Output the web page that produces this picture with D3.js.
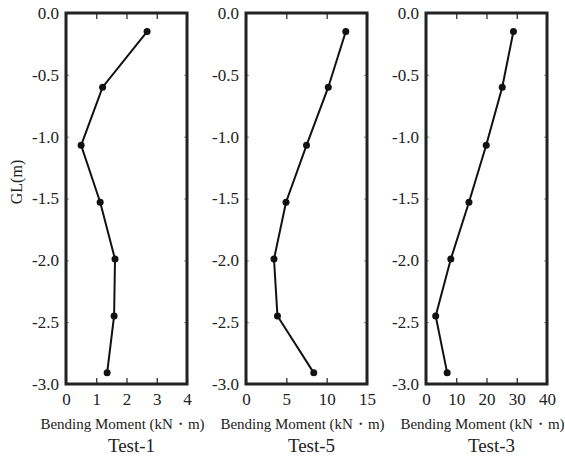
<!DOCTYPE html>
<html>
<head>
<meta charset="utf-8">
<script src="https://cdn.jsdelivr.net/npm/d3@7"></script>
<style>
  body { margin: 0; background: #fff; }
  text { font-family: "Liberation Serif", "DejaVu Serif", serif; fill: #222; }
</style>
</head>
<body>
<div class="chart"></div>
<script>
// depth below ground level (m)
const depths = [-0.15, -0.6, -1.07, -1.53, -1.99, -2.45, -2.91];

// bending moment (kN・m) per test
const test1 = [2.68, 1.21, 0.5, 1.13, 1.62, 1.59, 1.36];
const test5 = [12.37, 10.2, 7.5, 4.96, 3.47, 3.9, 8.4];
const test3 = [28.9, 25.2, 19.9, 14.2, 8.2, 3.2, 7.0];

const panelNames = ["Test-1", "Test-5", "Test-3"];
const xMax = [4, 15, 40];
const xTicks = [[0, 1, 2, 3, 4], [0, 5, 10, 15], [0, 10, 20, 30, 40]];
const yTicks = [0, -0.5, -1, -1.5, -2, -2.5, -3];

const panels = [test1, test5, test3].map((vals, i) => ({
    name: panelNames[i],
    max: xMax[i],
    ticks: xTicks[i],
    points: vals.map((v, j) => ({ m: v, gl: depths[j] }))
}));

const width = 565, height = 459;
const plotTop = 13, plotBottom = 384, panelW = 121;
const lefts = [66, 246, 426];

const svg = d3.select(".chart").append("svg")
    .attr("width", width)
    .attr("height", height);

const y = d3.scaleLinear().domain([-3, 0]).range([plotBottom, plotTop]);

panels.forEach((p, i) => {
    const left = lefts[i];
    const x = d3.scaleLinear().domain([0, p.max]).range([left, left + panelW]);
    const g = svg.append("g");

    // left axis with labels, ticks pointing inside
    g.append("g")
        .attr("transform", `translate(${left},0)`)
        .call(d3.axisLeft(y).tickValues(yTicks).tickSize(-3).tickSizeOuter(0)
            .tickPadding(7).tickFormat(d => d.toFixed(1)))
        .call(a => a.select(".domain").remove())
        .call(a => a.selectAll("line").attr("stroke", "#888"))
        .call(a => a.selectAll("text").attr("font-size", 17).attr("font-family", "Liberation Serif"));

    // right ticks
    g.append("g")
        .attr("transform", `translate(${left + panelW},0)`)
        .call(d3.axisRight(y).tickValues(yTicks).tickSize(-3).tickSizeOuter(0).tickFormat(""))
        .call(a => a.select(".domain").remove())
        .call(a => a.selectAll("line").attr("stroke", "#888"));

    // bottom axis
    g.append("g")
        .attr("transform", `translate(0,${plotBottom})`)
        .call(d3.axisBottom(x).tickValues(p.ticks).tickSize(-6).tickSizeOuter(0)
            .tickPadding(9).tickFormat(d3.format("d")))
        .call(a => a.select(".domain").remove())
        .call(a => a.selectAll("line").attr("stroke", "#222").attr("stroke-width", 1.2))
        .call(a => a.selectAll("text").attr("font-size", 17).attr("font-family", "Liberation Serif"));

    // top ticks
    g.append("g")
        .attr("transform", `translate(0,${plotTop})`)
        .call(d3.axisTop(x).tickValues(p.ticks).tickSize(-6).tickSizeOuter(0).tickFormat(""))
        .call(a => a.select(".domain").remove())
        .call(a => a.selectAll("line").attr("stroke", "#222").attr("stroke-width", 1.2));

    // frame
    g.append("rect")
        .attr("x", left)
        .attr("y", plotTop)
        .attr("width", panelW)
        .attr("height", plotBottom - plotTop)
        .attr("fill", "none")
        .attr("stroke", "#222")
        .attr("stroke-width", 3);

    // data line
    g.append("path")
        .datum(p.points)
        .attr("fill", "none")
        .attr("stroke", "#111")
        .attr("stroke-width", 2)
        .attr("d", d3.line().x(d => x(d.m)).y(d => y(d.gl)));

    g.selectAll("circle")
        .data(p.points)
        .join("circle")
        .attr("cx", d => x(d.m))
        .attr("cy", d => y(d.gl))
        .attr("r", 3.5)
        .attr("fill", "#111");

    g.append("text")
        .attr("x", left + panelW / 2 - 4)
        .attr("y", 429)
        .attr("text-anchor", "middle")
        .attr("font-size", 15)
        .text("Bending Moment (kN・m)");

    g.append("text")
        .attr("x", left + panelW / 2 + 5)
        .attr("y", 452)
        .attr("text-anchor", "middle")
        .attr("font-size", 19)
        .text(p.name);
});

svg.append("text")
    .attr("transform", "translate(22,182) rotate(-90)")
    .attr("text-anchor", "middle")
    .attr("font-size", 16)
    .text("GL(m)");
</script>
</body>
</html>
